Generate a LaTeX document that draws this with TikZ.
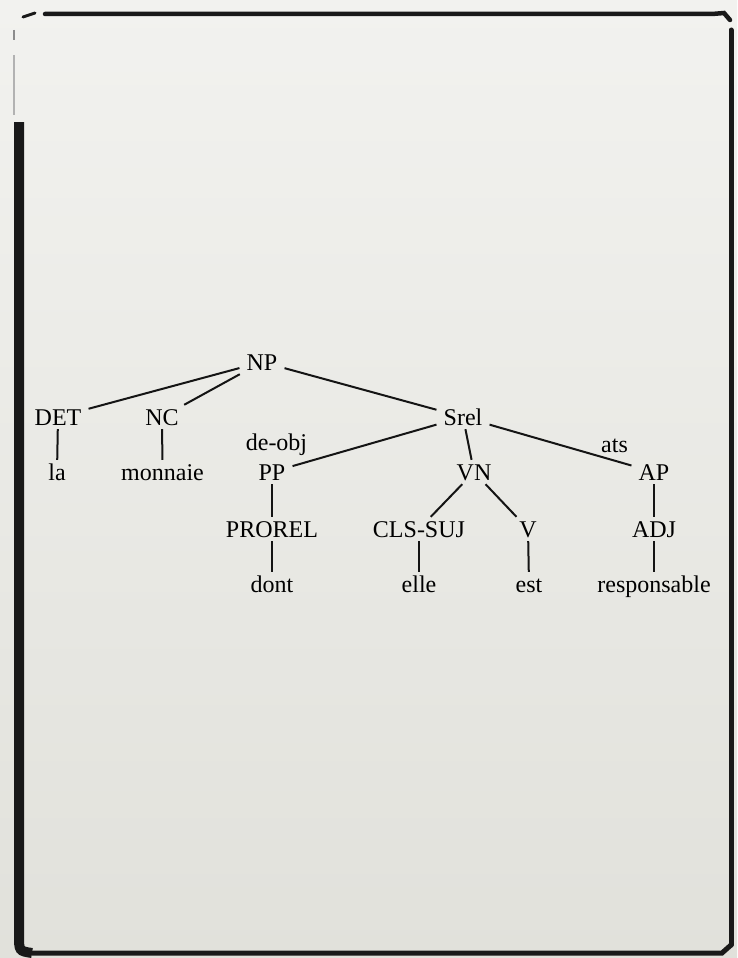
\documentclass[tikz,border=0pt]{standalone}
\usepackage{fontspec}
\setmainfont{Liberation Serif}
\begin{document}
\begin{tikzpicture}[x=1pt,y=-1pt,
  lbl/.style={font=\fontsize{24}{28}\selectfont, text height=16pt, text depth=0pt,
    inner xsep=7pt, inner ysep=4pt},
  rel/.style={font=\fontsize{24}{28}\selectfont, anchor=base, inner sep=0pt},
  edge/.style={line width=2pt, black!92},
  frame/.style={black!90, line cap=round}]
\useasboundingbox (0,0) rectangle (737,958);
\shade[top color={rgb,255:red,242;green,242;blue,239}, bottom color={rgb,255:red,225;green,225;blue,219}]
  (0,0) rectangle (737,958);
% frame
\draw[frame, line width=3pt] (23,17) -- (35,13);
\draw[frame, line width=4.5pt] (45,14) -- (712,14) -- (724,13) -- (730,20);
\draw[black!45, line width=2.5pt] (14,30) -- (14,40);
\draw[black!30, line width=2pt] (14,55) -- (14,115);
\draw[frame, line width=10pt, line cap=butt] (19,122) -- (19,935) .. controls (19,951) .. (32,953);
\draw[frame, line width=5pt] (32,953) -- (722,953) -- (731,945);
\draw[frame, line width=5pt] (731,30) -- (731,945);
% nodes
\node[lbl] (NP) at (262,362) {NP};
\node[lbl] (DET) at (58,417) {DET};
\node[lbl] (NC) at (162,417) {NC};
\node[lbl] (Srel) at (463,417) {Srel};
\node[lbl] (la) at (57,472) {la};
\node[lbl] (monnaie) at (162.5,472) {monnaie};
\node[lbl] (PP) at (272,472) {PP};
\node[lbl] (VN) at (474,472) {VN};
\node[lbl] (AP) at (654,472) {AP};
\node[lbl] (PROREL) at (272,529) {PROREL};
\node[lbl] (CLS) at (419,529) {CLS-SUJ};
\node[lbl] (V) at (528,529) {V};
\node[lbl] (ADJ) at (654,529) {ADJ};
\node[lbl] (dont) at (272,584) {dont};
\node[lbl] (elle) at (419,584) {elle};
\node[lbl] (est) at (529,584) {est};
\node[lbl] (resp) at (654,584) {responsable};
\node[rel] (deobj) at (276.5,450) {de-obj};
\node[rel] (ats) at (614.5,452) {ats};
% edges
\draw[edge] (NP) -- (DET);
\draw[edge] (NP) -- (NC);
\draw[edge] (NP) -- (Srel);
\draw[edge] (DET) -- (la);
\draw[edge] (NC) -- (monnaie);
\draw[edge] (Srel) -- (PP);
\draw[edge] (Srel) -- (VN);
\draw[edge] (Srel) -- (AP);
\draw[edge] (PP) -- (PROREL);
\draw[edge] (PROREL) -- (dont);
\draw[edge] (VN) -- (CLS);
\draw[edge] (VN) -- (V);
\draw[edge] (CLS) -- (elle);
\draw[edge] (V) -- (est);
\draw[edge] (AP) -- (ADJ);
\draw[edge] (ADJ) -- (resp);
\end{tikzpicture}
\end{document}
